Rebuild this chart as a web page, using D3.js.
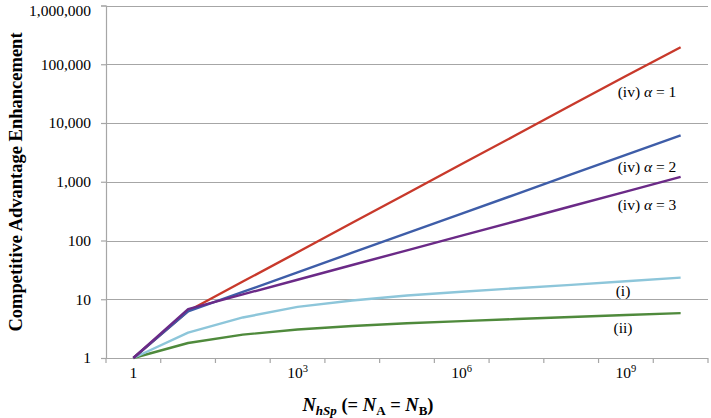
<!DOCTYPE html>
<html>
<head>
<meta charset="utf-8">
<script src="https://cdn.jsdelivr.net/npm/d3@7"></script>
<style>
  html, body { margin: 0; padding: 0; background: #fff; }
  svg { display: block; }
  text { font-family: "Liberation Serif", "DejaVu Serif", serif; fill: #000; }
</style>
</head>
<body>
<svg id="chart" width="711" height="418"></svg>
<script>
// ---- data ----
const exponents = [0, 1, 2, 3, 4, 5, 6, 7, 8, 9, 10];           // N = 10^k
const xTickLabels = [{k: 0, base: "1", sup: ""}, {k: 3, base: "10", sup: "3"}, {k: 6, base: "10", sup: "6"}, {k: 9, base: "10", sup: "9"}];
const yTickValues = [1, 10, 100, 1000, 10000, 100000, 1000000];

const seriesAlpha1 = [1, 6.3, 20, 63, 200, 630, 2000, 6300, 20000, 63000, 195000];
const seriesAlpha2 = [1, 6.2, 13.3, 28.6, 62, 133, 286, 617, 1330, 2860, 6170];
const seriesAlpha3 = [1, 6.8, 12.1, 21.5, 38.3, 68, 121, 215, 383, 681, 1210];
const seriesI      = [1, 2.7, 4.9, 7.4, 9.5, 11.6, 13.4, 15.4, 17.6, 20.2, 23.3];
const seriesII     = [1, 1.8, 2.5, 3.05, 3.5, 3.9, 4.25, 4.6, 5.0, 5.4, 5.8];

const series = [
  {name: "(ii)", values: seriesII, color: "#4F8A3C"},
  {name: "(i)", values: seriesI, color: "#8DC6DA"},
  {name: "(iv) α = 1", values: seriesAlpha1, color: "#C8392B"},
  {name: "(iv) α = 2", values: seriesAlpha2, color: "#3E5DA8"},
  {name: "(iv) α = 3", values: seriesAlpha3, color: "#6B2A87"}
];

// ---- layout ----
const svg = d3.select("#chart");
const mLeft = 106, mRight = 708, mTop = 5.5, mBottom = 358;

const x = d3.scaleBand().domain(exponents).range([mLeft, mRight]).paddingInner(0).paddingOuter(0);
const y = d3.scaleLog().domain([1, 1e6]).range([mBottom, mTop]);
const cx = k => x(k) + x.bandwidth() / 2;

const grid = "#A6A6A6";

// gridlines
svg.append("g").selectAll("line").data(yTickValues.slice(1)).join("line")
  .attr("x1", mLeft).attr("x2", mRight)
  .attr("y1", d => Math.round(y(d)) + 0.5).attr("y2", d => Math.round(y(d)) + 0.5)
  .attr("stroke", grid).attr("stroke-width", 1.2);

// y axis
const yAxis = d3.axisLeft(y).tickValues(yTickValues).tickSize(5).tickPadding(10)
  .tickFormat(d3.format(","));
const gy = svg.append("g").attr("transform", `translate(${mLeft},0)`).call(yAxis);
gy.select(".domain").attr("stroke", grid).attr("stroke-width", 1.2);
gy.selectAll(".tick line").attr("stroke", grid).attr("stroke-width", 1.2);
gy.selectAll(".tick text").style("font-family", '"Liberation Serif", serif').style("font-size", "15.5px").attr("fill", "#000")
  .attr("dy", d => d === 1000000 ? "0.62em" : "0.32em");

// x axis line + ticks at category boundaries
svg.append("line").attr("x1", mLeft).attr("x2", mRight).attr("y1", mBottom + 0.5).attr("y2", mBottom + 0.5)
  .attr("stroke", grid).attr("stroke-width", 1.2);
const boundaries = exponents.map(k => x(k)).concat([mRight]);
svg.append("g").selectAll("line").data(boundaries).join("line")
  .attr("x1", d => d).attr("x2", d => d).attr("y1", mBottom).attr("y2", mBottom + 5)
  .attr("stroke", grid).attr("stroke-width", 1.2);

// x tick labels
const xl = svg.append("g").selectAll("text").data(xTickLabels).join("text")
  .attr("x", d => cx(d.k)).attr("y", 378).attr("text-anchor", "middle")
  .style("font-size", "15.5px");
xl.append("tspan").text(d => d.base);
xl.append("tspan").attr("dy", "-6").style("font-size", "10.5px").text(d => d.sup);

// lines
const line = d3.line().x((d, i) => cx(exponents[i])).y(d => y(d));
svg.append("g").selectAll("path").data(series).join("path")
  .attr("d", d => line(d.values))
  .attr("fill", "none").attr("stroke", d => d.color).attr("stroke-width", 2.4)
  .attr("stroke-linejoin", "round");

// series labels
const labelPos = [
  {lab: "(iv) ", a: "α", rest: " = 1", x: 647, y: 97},
  {lab: "(iv) ", a: "α", rest: " = 2", x: 647, y: 172},
  {lab: "(iv) ", a: "α", rest: " = 3", x: 647, y: 210},
  {lab: "(i)", a: "", rest: "", x: 623, y: 296},
  {lab: "(ii)", a: "", rest: "", x: 623, y: 333}
];
const lt = svg.append("g").selectAll("text").data(labelPos).join("text")
  .attr("x", d => d.x).attr("y", d => d.y).attr("text-anchor", "middle")
  .style("font-size", "15.5px");
lt.append("tspan").text(d => d.lab);
lt.append("tspan").style("font-style", "italic").text(d => d.a);
lt.append("tspan").text(d => d.rest);

// y axis title
svg.append("text")
  .attr("transform", "translate(22,182) rotate(-90)")
  .attr("text-anchor", "middle")
  .style("font-size", "18.5px").style("font-weight", "bold")
  .text("Competitive Advantage Enhancement");

// x axis title
const xt = svg.append("text").attr("x", 368).attr("y", 411).attr("text-anchor", "middle")
  .style("font-size", "18.5px").style("font-weight", "bold");
xt.append("tspan").style("font-style", "italic").text("N");
xt.append("tspan").style("font-style", "italic").style("font-size", "13px").attr("dy", "4").text("hSp");
xt.append("tspan").attr("dy", "-4").text(" (= ");
xt.append("tspan").style("font-style", "italic").text("N");
xt.append("tspan").style("font-size", "13px").attr("dy", "4").text("A");
xt.append("tspan").attr("dy", "-4").text(" = ");
xt.append("tspan").style("font-style", "italic").text("N");
xt.append("tspan").style("font-size", "13px").attr("dy", "4").text("B");
xt.append("tspan").attr("dy", "-4").text(")");
</script>
</body>
</html>
